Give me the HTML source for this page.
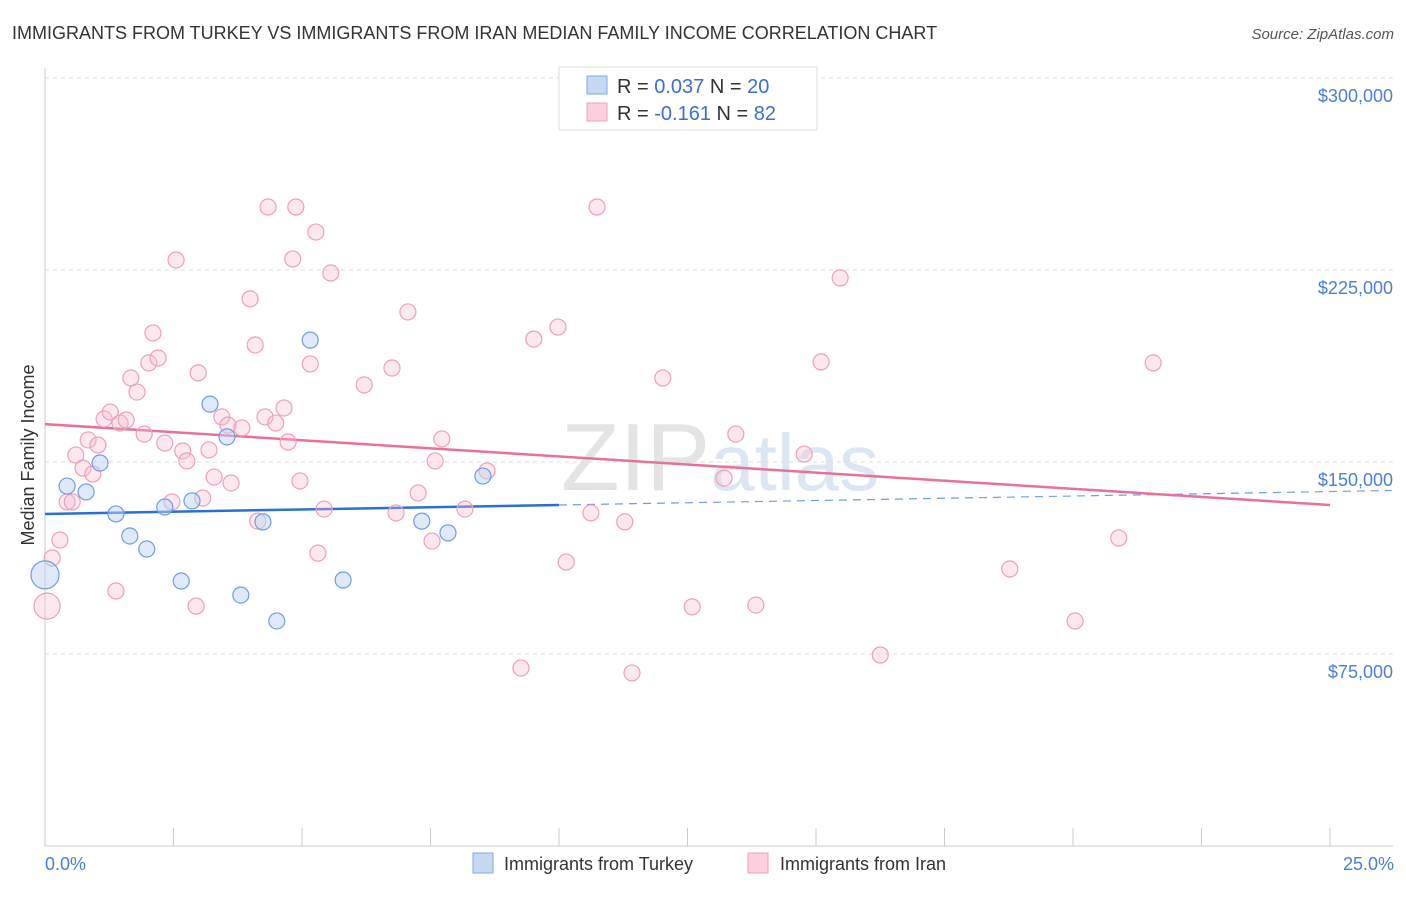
<!DOCTYPE html>
<html><head><meta charset="utf-8"><style>
body{margin:0;background:#fff;font-family:"Liberation Sans",sans-serif;}
svg text{font-family:"Liberation Sans",sans-serif;}
</style></head><body>
<svg id="chart" width="1406" height="892" viewBox="0 0 1406 892" xmlns="http://www.w3.org/2000/svg">
<text x="12" y="39" font-size="18" fill="#333">IMMIGRANTS FROM TURKEY VS IMMIGRANTS FROM IRAN MEDIAN FAMILY INCOME CORRELATION CHART</text>
<text x="1394" y="39" font-size="15" fill="#555" text-anchor="end" font-style="italic">Source: ZipAtlas.com</text>
<text x="720" y="490" font-size="96" fill="#e4e4e4" text-anchor="middle" font-family="Liberation Serif">ZIP<tspan fill="#dce6f2" font-family="Liberation Sans" font-size="80">atlas</tspan></text>
<g id="grid"></g><g id="axes"></g><g id="trend"></g><g id="pts"></g>
<text transform="translate(34,455) rotate(-90)" font-size="18" fill="#333" text-anchor="middle">Median Family Income</text>
<text x="45" y="870" font-size="18" fill="#4a7fd4">0.0%</text>
<text x="1394" y="870" font-size="18" fill="#4a7fd4" text-anchor="end">25.0%</text>
<g>
<rect x="559" y="67" width="258" height="63" fill="#fff" stroke="#ddd"/>
<rect x="587" y="76" width="20" height="18" fill="#c5d9f5" stroke="#7fa8e0"/>
<rect x="587" y="103" width="20" height="18" fill="#fbd0dc" stroke="#eda0b8"/>
<text x="617" y="93" font-size="20" fill="#333">R = <tspan fill="#3a6fd1">0.037</tspan>   N = <tspan fill="#3a6fd1">20</tspan></text>
<text x="617" y="120" font-size="20" fill="#333">R = <tspan fill="#3a6fd1">-0.161</tspan>   N = <tspan fill="#3a6fd1">82</tspan></text>
</g>
<g>
<rect x="473" y="853" width="20" height="20" fill="#c5d9f5" stroke="#7fa8e0"/>
<text x="504" y="870" font-size="18" fill="#333">Immigrants from Turkey</text>
<rect x="748" y="853" width="20" height="20" fill="#fbd0dc" stroke="#eda0b8"/>
<text x="780" y="870" font-size="18" fill="#333">Immigrants from Iran</text>
</g>
</svg>
<script>
const yTicks=[75000,150000,225000,300000];
const yTickLabels=["$75,000","$150,000","$225,000","$300,000"];
const xTicks=[0,2.5,5,7.5,10,12.5,15,17.5,20,22.5,25];
const turkeyX=[0,0.43,0.80,1.07,1.38,1.65,1.98,2.33,2.65,2.86,3.21,3.54,3.81,4.24,4.51,5.16,5.80,7.33,7.84,8.52];
const turkeyY=[105.9,140.6,138.3,149.6,129.7,121.1,116.0,132.4,103.5,134.8,172.6,159.8,98.0,126.6,87.9,197.6,103.9,126.9,122.3,144.5];
const turkeyR=[14,8,8,8,8,8,8,8,8,8,8,8,8,8,8,8,8,8,8,8];
const iranX=[0.04,0.14,0.29,0.43,0.53,0.60,0.74,0.84,0.93,1.03,1.15,1.27,1.38,1.46,1.58,1.67,1.79,1.93,2.02,2.10,2.20,2.33,2.47,2.55,2.68,2.76,2.94,2.98,3.07,3.19,3.29,3.44,3.56,3.62,3.83,3.99,4.09,4.14,4.28,4.34,4.49,4.65,4.73,4.82,4.88,4.96,5.16,5.27,5.31,5.43,5.56,6.21,6.75,6.83,7.06,7.26,7.53,7.59,7.72,8.17,8.60,9.26,9.51,9.98,10.14,10.62,10.74,11.28,11.42,12.02,12.59,13.21,13.44,13.83,14.77,15.10,15.47,16.25,18.77,20.04,20.89,21.56];
const iranY=[93.7,112.5,119.5,134.4,134.4,152.7,147.6,158.6,145.3,156.6,166.8,169.5,99.6,165.2,166.4,182.8,177.3,160.9,188.7,200.4,190.6,157.4,134.4,228.9,154.3,150.4,93.7,184.8,135.9,154.7,144.1,167.6,164.4,141.8,163.3,213.7,195.7,126.9,167.6,249.6,165.2,171.1,157.8,229.3,249.6,142.6,188.3,239.8,114.4,131.6,223.8,180.1,186.7,130.1,208.6,137.9,119.1,150.4,159.0,131.6,146.5,69.5,198.0,202.7,110.9,130.1,249.6,126.6,67.6,182.8,93.4,143.7,160.9,94.1,153.1,189.1,221.9,74.6,108.2,87.9,120.3,188.7];
const turkeyTrend=[129.7,0.35];
const iranTrend=[164.8,-1.264];
const NS="http://www.w3.org/2000/svg";
const X=v=>45+v*51.4, Y=k=>846-k*1000/390.6;
function mk(tag,at,parent){const e=document.createElementNS(NS,tag);for(const k in at)e.setAttribute(k,at[k]);document.getElementById(parent).appendChild(e);return e;}
yTicks.forEach((t,i)=>{
 const l=mk('line',{x1:45,x2:1393,y1:Y(t/1000),y2:Y(t/1000),stroke:'#ddd','stroke-dasharray':'4,4'},'grid');
 
 
 const tx=mk('text',{x:1393,y:Y(t/1000)+24,'font-size':18,fill:'#4a7fd4','text-anchor':'end'},'grid');
 tx.textContent=yTickLabels[i];
 
 
});
const ax=mk('line',{x1:45,x2:45,y1:68,y2:846,stroke:'#ccc'},'axes');


const bx=mk('line',{x1:45,x2:1393,y1:846,y2:846,stroke:'#ccc'},'axes');


xTicks.forEach(t=>{
 const l=mk('line',{x1:X(t),x2:X(t),y1:828,y2:846,stroke:'#ccc'},'axes');
 
 
});
function pts(xs,ys,rs,fill,stroke,name){xs.forEach((x,i)=>{
 const c=mk('circle',{cx:X(x),cy:Y(ys[i]),r:rs?rs[i]:(i==0?13:8),fill:fill,stroke:stroke,'stroke-width':1.2},'pts');
 
 
});}
pts(iranX,iranY,null,'rgba(248,190,208,0.35)','#eda0b8','iran-point');
pts(turkeyX,turkeyY,turkeyR,'rgba(190,212,245,0.5)','#6f9de0','turkey-point');
const tEnd=10, xMax=26.2;
const t1=mk('line',{x1:X(0),y1:Y(turkeyTrend[0]),x2:X(tEnd),y2:Y(turkeyTrend[0]+turkeyTrend[1]*tEnd),stroke:'#2a6fd4','stroke-width':2.5},'trend');


const t2=mk('line',{x1:X(tEnd),y1:Y(turkeyTrend[0]+turkeyTrend[1]*tEnd),x2:X(xMax),y2:Y(turkeyTrend[0]+turkeyTrend[1]*xMax),stroke:'#6f9de0','stroke-width':1.2,'stroke-dasharray':'8,6'},'trend');


const t3=mk('line',{x1:X(0),y1:Y(iranTrend[0]),x2:X(25),y2:Y(iranTrend[0]+iranTrend[1]*25),stroke:'#e8709a','stroke-width':2.5},'trend');


</script>
</body></html>
